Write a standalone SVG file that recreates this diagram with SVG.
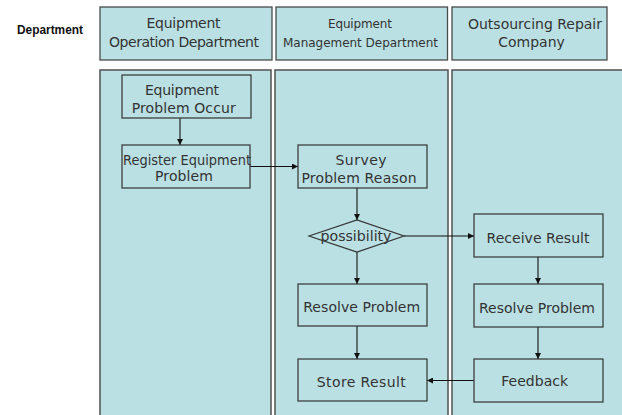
<svg xmlns="http://www.w3.org/2000/svg" width="622" height="415" viewBox="0 0 622 415">
<style>
.hdr{fill:#BAE0E3;stroke:#4a4a4a;stroke-width:1.3}
.lane{fill:#BAE0E3;stroke:#5a5a5a;stroke-width:1.6}
.node{fill:#BAE0E3;stroke:#333;stroke-width:1.2}
.t{font-family:"DejaVu Sans","Liberation Sans",sans-serif;font-size:14px;fill:#333;text-anchor:middle}
.th{font-family:"DejaVu Sans","Liberation Sans",sans-serif;font-size:12px;fill:#333;text-anchor:middle}
.lbl{font-family:"Liberation Sans",Arial,sans-serif;font-size:12px;font-weight:bold;fill:#111}
.c{stroke:#111;stroke-width:1.1;fill:none;marker-end:url(#ah)}
</style>
<defs>
<marker id="ah" viewBox="0 0 10 10" refX="10" refY="5" markerWidth="6" markerHeight="6" markerUnits="userSpaceOnUse" orient="auto">
<path d="M0,0 L10,5 L0,10 z" fill="#111"/>
</marker>
</defs>
<rect width="622" height="415" fill="#fff"/>
<g id="lanes">
<text class="lbl" x="17" y="34" textLength="66" lengthAdjust="spacingAndGlyphs">Department</text>
<g id="lane-operation">
<rect class="hdr" x="100" y="7" width="172" height="53"/>
<text class="t" x="183.5" y="28" textLength="74">Equipment</text>
<text class="t" x="184" y="47" textLength="150">Operation Department</text>
<rect class="lane" x="100" y="70" width="171" height="350"/>
</g>
<g id="lane-management">
<rect class="hdr" x="276" y="7" width="171.5" height="53"/>
<text class="th" x="360" y="28" textLength="64">Equipment</text>
<text class="th" x="360.5" y="47" textLength="155">Management Department</text>
<rect class="lane" x="275" y="70" width="173" height="350"/>
</g>
<g id="lane-outsourcing">
<rect class="hdr" x="452" y="7" width="155" height="53"/>
<text class="t" x="535" y="29" textLength="134">Outsourcing Repair</text>
<text class="t" x="531.5" y="47">Company</text>
<rect class="lane" x="452" y="70" width="180" height="350"/>
</g>
</g>
<g id="connectors">
<line class="c" x1="180" y1="118" x2="180" y2="145"/>
<line class="c" x1="250" y1="166.5" x2="298" y2="166.5"/>
<line class="c" x1="357" y1="188" x2="357" y2="220"/>
<line class="c" x1="404" y1="236" x2="474" y2="236"/>
<line class="c" x1="357" y1="252" x2="357" y2="284"/>
<line class="c" x1="357" y1="326" x2="357" y2="359"/>
<line class="c" x1="538" y1="257" x2="538" y2="284"/>
<line class="c" x1="538" y1="327" x2="538" y2="359"/>
<line class="c" x1="474" y1="380.5" x2="427" y2="380.5"/>
</g>
<g id="n-problem-occur">
<rect class="node" x="122" y="75" width="129" height="43"/>
<text class="t" x="182" y="95" textLength="74">Equipment</text>
<text class="t" x="183.7" y="113" textLength="104">Problem Occur</text>
</g>
<g id="n-register">
<rect class="node" x="122" y="145" width="128" height="43"/>
<text class="t" x="187" y="165" textLength="128" lengthAdjust="spacingAndGlyphs">Register Equipment</text>
<text class="t" x="184" y="181" textLength="58">Problem</text>
</g>
<g id="n-survey">
<rect class="node" x="298" y="145" width="129" height="43"/>
<text class="t" x="361" y="165" textLength="51">Survey</text>
<text class="t" x="359" y="183" textLength="115">Problem Reason</text>
</g>
<g id="n-possibility">
<polygon class="node" points="309,236 357,220 404,236 357,252"/>
<text class="t" x="356" y="241" textLength="71" lengthAdjust="spacingAndGlyphs">possibility</text>
</g>
<g id="n-resolve-mgmt">
<rect class="node" x="298" y="284" width="129" height="42"/>
<text class="t" x="361.7" y="312" textLength="117">Resolve Problem</text>
</g>
<g id="n-store">
<rect class="node" x="298" y="359" width="129" height="42"/>
<text class="t" x="361.3" y="386.5" textLength="89">Store Result</text>
</g>
<g id="n-receive">
<rect class="node" x="474" y="214" width="129" height="43"/>
<text class="t" x="538" y="242.5" textLength="103">Receive Result</text>
</g>
<g id="n-resolve-out">
<rect class="node" x="474" y="284" width="129" height="43"/>
<text class="t" x="537" y="312.5" textLength="116">Resolve Problem</text>
</g>
<g id="n-feedback">
<rect class="node" x="474" y="359" width="129" height="43"/>
<text class="t" x="534.7" y="386" textLength="67">Feedback</text>
</g>
</svg>
